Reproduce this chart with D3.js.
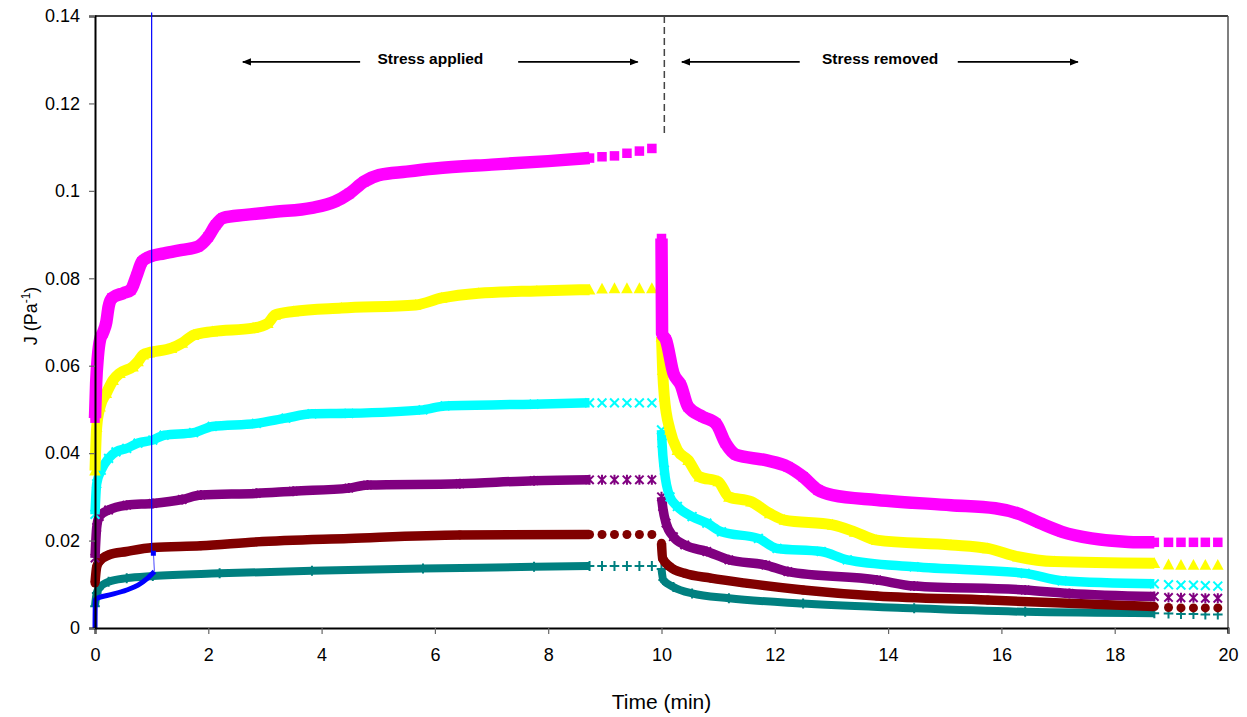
<!DOCTYPE html>
<html>
<head>
<meta charset="utf-8">
<script src="https://cdn.jsdelivr.net/npm/d3@7"></script>
<style>
  html, body { margin: 0; padding: 0; background: #fff; }
  svg text { font-family: "Liberation Sans", Arial, sans-serif; }
</style>
</head>
<body>
<svg id="chart" width="1247" height="717"></svg>
<script>
// ---------------- DATA ----------------
const xTicks = [0, 2, 4, 6, 8, 10, 12, 14, 16, 18, 20];
const yTicks = [0, 0.02, 0.04, 0.06, 0.08, 0.1, 0.12, 0.14];
const yTickLabels = ["0", "0.02", "0.04", "0.06", "0.08", "0.1", "0.12", "0.14"];
const xTitle = "Time (min)";
const yTitle = ["J (Pa", "-1", ")"];

// creep (stress applied) [time, J]
const magentaCreep = [[0,0.048],[0.02,0.056],[0.05,0.062],[0.09,0.066],[0.14,0.0675],[0.2,0.07],[0.24,0.0735],[0.3,0.0755],[0.5,0.0766],[0.63,0.0773],[0.73,0.0804],[0.83,0.0838],[0.96,0.0849],[1.22,0.0857],[1.54,0.0865],[1.81,0.0872],[2.0,0.0895],[2.13,0.0922],[2.26,0.0938],[2.65,0.0945],[3.18,0.0952],[3.83,0.0961],[4.23,0.0975],[4.49,0.0994],[4.75,0.1021],[5.01,0.1036],[5.5,0.1044],[6.0,0.1051],[7.0,0.106],[8.0,0.1068],[8.73,0.1075],[8.95,0.1078],[9.17,0.108],[9.39,0.1086],[9.61,0.1091],[9.83,0.1097]];
const yellowCreep = [[0,0.036],[0.03,0.046],[0.09,0.0506],[0.2,0.0537],[0.32,0.0567],[0.44,0.0583],[0.67,0.0598],[0.76,0.061],[0.85,0.0625],[0.96,0.063],[1.35,0.064],[1.54,0.0652],[1.74,0.067],[2.07,0.0678],[2.79,0.0686],[3.05,0.0697],[3.18,0.0716],[3.5,0.0724],[4.35,0.0732],[5.66,0.0739],[6.12,0.0755],[6.77,0.0766],[7.8,0.0771],[8.73,0.0774],[8.95,0.0776],[9.17,0.0777],[9.39,0.0777],[9.61,0.0777],[9.83,0.0777]];
const cyanCreep = [[0,0.026],[0.03,0.033],[0.11,0.0361],[0.24,0.0388],[0.37,0.0403],[0.56,0.0411],[0.76,0.0423],[1.02,0.043],[1.22,0.0441],[1.74,0.0447],[2.07,0.0461],[2.85,0.0468],[3.37,0.048],[3.83,0.049],[4.48,0.0491],[5.79,0.0499],[6.18,0.0508],[7.75,0.0512],[8.73,0.0515],[8.95,0.0515],[9.17,0.0515],[9.39,0.0515],[9.61,0.0515],[9.83,0.0515]];
const purpleCreep = [[0,0.016],[0.03,0.023],[0.075,0.0255],[0.24,0.027],[0.56,0.0281],[1.02,0.0285],[1.54,0.0294],[1.87,0.0304],[2.85,0.0308],[3.5,0.0313],[4.48,0.032],[4.81,0.0327],[6.44,0.033],[7.75,0.0337],[8.73,0.0339],[8.95,0.0339],[9.17,0.0339],[9.39,0.0339],[9.61,0.0339],[9.83,0.0339]];
const darkRedCreep = [[0,0.0103],[0.03,0.014],[0.075,0.0152],[0.24,0.0167],[0.56,0.0175],[1.02,0.0184],[1.87,0.0188],[2.85,0.0197],[4.48,0.0205],[6.44,0.0213],[8.73,0.0214],[8.95,0.0214],[9.17,0.0214],[9.39,0.0214],[9.61,0.0214],[9.83,0.0214]];
const tealCreep = [[0,0.005],[0.03,0.008],[0.075,0.0091],[0.24,0.0106],[0.56,0.0114],[1.02,0.0119],[2.2,0.0125],[3.83,0.0131],[5.79,0.0136],[7.75,0.014],[8.73,0.0142],[8.95,0.0142],[9.17,0.0142],[9.39,0.0142],[9.61,0.0142],[9.83,0.0142]];

// recovery (stress removed) [time, J]
const magentaRec = [[10.0,0.0891],[10.01,0.0674],[10.08,0.0659],[10.21,0.0583],[10.34,0.0556],[10.47,0.0506],[10.73,0.0483],[10.96,0.0468],[11.13,0.0423],[11.32,0.0396],[11.84,0.0384],[12.23,0.0369],[12.5,0.0346],[12.76,0.0316],[13.02,0.0304],[13.8,0.0293],[15.11,0.0281],[15.89,0.0274],[16.29,0.0262],[16.68,0.024],[17.07,0.022],[17.59,0.0205],[18.24,0.0197],[18.7,0.0196],[18.95,0.0196],[19.17,0.0196],[19.39,0.0196],[19.6,0.0196],[19.82,0.0196]];
const yellowRec = [[10.0,0.0666],[10.02,0.059],[10.05,0.0529],[10.15,0.0453],[10.28,0.0407],[10.47,0.0384],[10.67,0.0346],[11.0,0.0335],[11.19,0.03],[11.58,0.0289],[11.91,0.0262],[12.17,0.0247],[13.02,0.0236],[13.41,0.022],[13.8,0.0201],[15.11,0.019],[15.76,0.0182],[16.29,0.0163],[16.94,0.0152],[18.7,0.0148],[18.95,0.0145],[19.17,0.0144],[19.39,0.0144],[19.6,0.0144],[19.82,0.0144]];
const cyanRec = [[10.0,0.0453],[10.01,0.0423],[10.05,0.0361],[10.15,0.03],[10.28,0.0278],[10.54,0.0255],[10.8,0.024],[11.06,0.022],[11.71,0.0205],[12.04,0.0182],[12.82,0.0175],[13.28,0.0156],[14.46,0.014],[16.42,0.0125],[17.07,0.0108],[18.7,0.0101],[18.95,0.0099],[19.17,0.0098],[19.39,0.0098],[19.6,0.0097],[19.82,0.0096]];
const purpleRec = [[10.0,0.03],[10.02,0.0278],[10.08,0.024],[10.21,0.0209],[10.41,0.019],[10.8,0.0175],[11.19,0.0156],[11.84,0.0144],[12.23,0.0129],[13.8,0.011],[14.46,0.0096],[16.42,0.0087],[17.2,0.0079],[18.7,0.0072],[18.95,0.007],[19.17,0.0069],[19.39,0.0069],[19.6,0.0068],[19.82,0.0068]];
const darkRedRec = [[10.0,0.0194],[10.02,0.0159],[10.15,0.014],[10.41,0.0125],[10.87,0.0114],[11.52,0.0102],[12.5,0.0087],[13.8,0.0073],[15.76,0.0064],[18.7,0.0049],[18.95,0.0047],[19.17,0.0046],[19.39,0.0046],[19.6,0.0046],[19.82,0.0046]];
const tealRec = [[10.0,0.0135],[10.03,0.011],[10.21,0.0094],[10.54,0.0079],[11.19,0.0068],[12.5,0.0056],[14.46,0.0045],[16.42,0.0037],[18.7,0.0034],[18.95,0.0033],[19.17,0.0032],[19.39,0.0032],[19.6,0.0031],[19.82,0.0031]];

// blue curve and its marker line
const blueCurve = [[0,0],[0.005,0.0064],[0.04,0.0068],[0.24,0.0075],[0.56,0.0087],[0.76,0.0098],[0.93,0.0114],[1.05,0.0129]];
const blueMark = [1.03, 0.0171];
const blueLine = [[1.0, 0.0171], [1.0, 0.1408]];

// end of the densely sampled part of each phase (min)
const creepDenseEnd = 8.74;
const recDenseEnd = 18.71;

// annotations [label, leftArrowHead, leftArrowEnd, rightArrowStart, rightArrowHead, textCentre] (min)
const annotations = [
  ["Stress applied", 2.61, 4.68, 7.47, 9.58, 5.92],
  ["Stress removed", 10.36, 12.44, 15.23, 17.35, 13.86]
];
const annotationJ = 0.1295;
const stressSwitch = [10.05, 0.14, 0.1123];

// ---------------- CHART ----------------
const svg = d3.select("#chart");
const x = d3.scaleLinear().domain([0, 20]).range([95, 1228]);
const y = d3.scaleLinear().domain([0, 0.14]).range([628, 16]);

const series = [
  { name: "magenta", creep: magentaCreep, rec: magentaRec, color: "#ff00ff", marker: "square", band: 12.5 },
  { name: "yellow", creep: yellowCreep, rec: yellowRec, color: "#ffff00", marker: "triangle", band: 11 },
  { name: "cyan", creep: cyanCreep, rec: cyanRec, color: "#00ffff", marker: "x", band: 9.5 },
  { name: "purple", creep: purpleCreep, rec: purpleRec, color: "#800080", marker: "star", band: 9.5 },
  { name: "darkred", creep: darkRedCreep, rec: darkRedRec, color: "#800000", marker: "circle", band: 9.5 },
  { name: "teal", creep: tealCreep, rec: tealRec, color: "#008080", marker: "plus", band: 8 }
];

// frame: top and right
svg.append("line").attr("x1", x(0)).attr("x2", x(20)).attr("y1", y(0.14)).attr("y2", y(0.14))
  .attr("stroke", "#000").attr("stroke-width", 1.5);
svg.append("line").attr("x1", x(20)).attr("x2", x(20)).attr("y1", y(0.14)).attr("y2", y(0) + 5)
  .attr("stroke", "#555").attr("stroke-width", 1.5);

const lineGen = d3.line().x(d => x(d[0])).y(d => y(d[1])).curve(d3.curveMonotoneX);

function markerPath(type) {
  switch (type) {
    case "triangle": return "M0,-6L5.8,4.8L-5.8,4.8Z";
    case "x": return "M-4.4,-4.4L4.4,4.4M-4.4,4.4L4.4,-4.4";
    case "star": return "M-4.2,-4.2L4.2,4.2M-4.2,4.2L4.2,-4.2M0,-5L0,5";
    case "plus": return "M-4.8,0L4.8,0M0,-5L0,5";
  }
  return null;
}

function drawMarkers(g, pts, s) {
  pts.forEach(p => {
    const cx = x(p[0]), cy = y(p[1]);
    if (s.marker === "square") {
      g.append("rect").attr("x", cx - 4.75).attr("y", cy - 4.75).attr("width", 9.5).attr("height", 9.5).attr("fill", s.color);
    } else if (s.marker === "circle") {
      g.append("circle").attr("cx", cx).attr("cy", cy).attr("r", 4.5).attr("fill", s.color);
    } else if (s.marker === "triangle") {
      g.append("path").attr("transform", `translate(${cx},${cy})`).attr("d", markerPath("triangle")).attr("fill", s.color);
    } else {
      g.append("path").attr("transform", `translate(${cx},${cy})`).attr("d", markerPath(s.marker))
        .attr("fill", "none").attr("stroke", s.color).attr("stroke-width", 2);
    }
  });
}

// draw from bottom series to top so upper bands overlap as in the reference
const plot = svg.append("g");
series.slice().reverse().forEach(s => {
  const g = plot.append("g").attr("class", "series-" + s.name);
  [[s.creep, creepDenseEnd], [s.rec, recDenseEnd]].forEach(([pts, end]) => {
    const dense = pts.filter(p => p[0] <= end);
    g.append("path").datum(dense).attr("d", lineGen)
      .attr("fill", "none").attr("stroke", s.color).attr("stroke-width", s.band)
      .attr("stroke-linejoin", "round").attr("stroke-linecap", "butt");
    drawMarkers(g, pts, s);
  });
});

// blue curve
svg.append("path").datum(blueCurve).attr("d", lineGen)
  .attr("fill", "none").attr("stroke", "#0000ff").attr("stroke-width", 5).attr("stroke-linejoin", "round");
svg.append("line").attr("x1", x(blueCurve[blueCurve.length - 1][0])).attr("y1", y(blueCurve[blueCurve.length - 1][1]))
  .attr("x2", x(blueMark[0])).attr("y2", y(blueMark[1])).attr("stroke", "#6b6bff").attr("stroke-width", 1.2);
svg.append("rect").attr("x", x(blueMark[0]) - 2.5).attr("y", y(blueMark[1]) - 2.5).attr("width", 5).attr("height", 5).attr("fill", "#0000ff");
svg.append("path").datum(blueLine).attr("d", d3.line().x(d => x(d[0])).y(d => y(d[1]))).attr("stroke", "#0000ff").attr("stroke-width", 1.2).attr("fill", "none");

// axes
const xAxis = svg.append("g").attr("transform", `translate(0,${y(0)})`)
  .call(d3.axisBottom(x).tickValues(xTicks).tickFormat(d3.format("d")).tickSize(6).tickPadding(14));
xAxis.select(".domain").attr("stroke", "#000").attr("stroke-width", 2);
xAxis.selectAll(".tick line").attr("stroke", "#666").attr("stroke-width", 1.2);
xAxis.selectAll(".tick text").attr("font-size", 18).attr("fill", "#000").attr("font-family", "Liberation Sans, Arial, sans-serif");

const yAxis = svg.append("g").attr("transform", `translate(${x(0)},0)`)
  .call(d3.axisLeft(y).tickValues(yTicks).tickFormat((d, i) => yTickLabels[i]).tickSize(6).tickPadding(9));
yAxis.select(".domain").attr("stroke", "#000").attr("stroke-width", 2);
yAxis.selectAll(".tick line").attr("stroke", "#666").attr("stroke-width", 1.2);
yAxis.selectAll(".tick text").attr("font-size", 18).attr("fill", "#000").attr("font-family", "Liberation Sans, Arial, sans-serif");

// axis titles
svg.append("text").attr("x", (x(0) + x(20)) / 2).attr("y", 709).attr("text-anchor", "middle")
  .attr("font-size", 21).text(xTitle);
const yt = svg.append("text").attr("transform", "translate(37,316) rotate(-90)").attr("text-anchor", "middle").attr("font-size", 18);
yt.append("tspan").text(yTitle[0]);
yt.append("tspan").attr("font-size", 12).attr("dy", -7).text(yTitle[1]);
yt.append("tspan").attr("dy", 7).text(yTitle[2]);

// dashed switch line
svg.append("line").attr("x1", x(stressSwitch[0])).attr("x2", x(stressSwitch[0]))
  .attr("y1", y(stressSwitch[1])).attr("y2", y(stressSwitch[2]))
  .attr("stroke", "#444").attr("stroke-width", 1.5).attr("stroke-dasharray", "7,4");

// annotations
const defs = svg.append("defs");
defs.append("marker").attr("id", "ah").attr("viewBox", "0 0 10 10").attr("refX", 9).attr("refY", 5)
  .attr("markerWidth", 9).attr("markerHeight", 9).attr("markerUnits", "userSpaceOnUse").attr("orient", "auto")
  .append("path").attr("d", "M0,1L10,5L0,9Z").attr("fill", "#000");
annotations.forEach(a => {
  const ay = y(annotationJ);
  svg.append("line").attr("x1", x(a[2])).attr("x2", x(a[1])).attr("y1", ay).attr("y2", ay)
    .attr("stroke", "#000").attr("stroke-width", 1.6).attr("marker-end", "url(#ah)");
  svg.append("line").attr("x1", x(a[3])).attr("x2", x(a[4])).attr("y1", ay).attr("y2", ay)
    .attr("stroke", "#000").attr("stroke-width", 1.6).attr("marker-end", "url(#ah)");
  svg.append("text").attr("x", x(a[5])).attr("y", ay + 2).attr("text-anchor", "middle")
    .attr("font-size", 15.5).attr("font-weight", "bold").text(a[0]);
});
</script>
</body>
</html>
